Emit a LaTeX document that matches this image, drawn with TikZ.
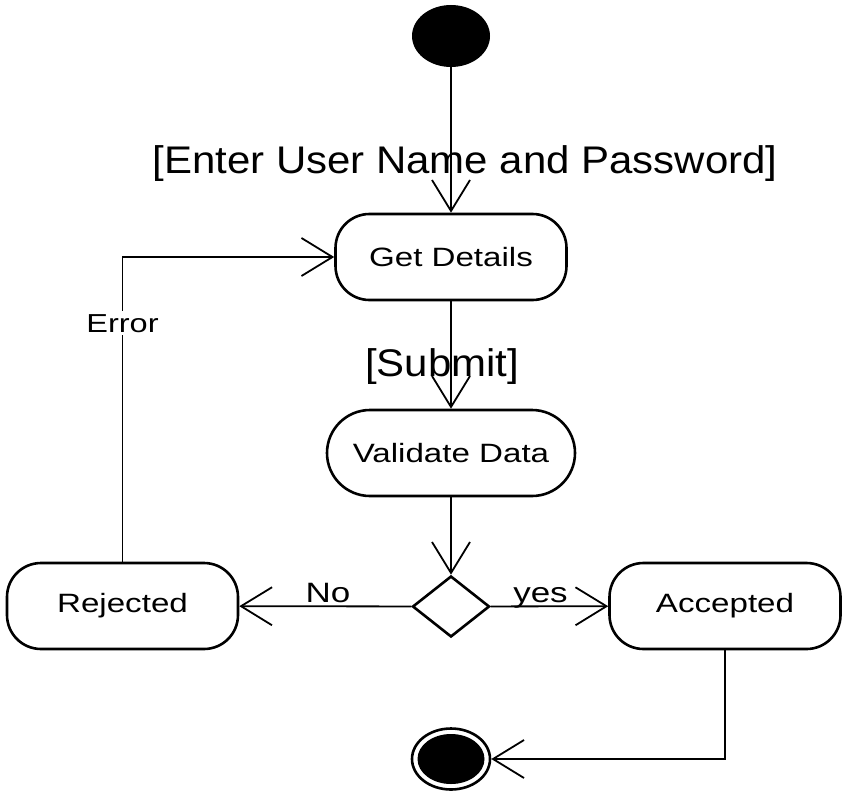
\documentclass[tikz,border=0pt]{standalone}
\usepackage{fontspec}
\usetikzlibrary{arrows.meta,shapes.geometric}
\newfontfamily\nodefont[FakeStretch=1.25]{Liberation Sans}
\newfontfamily\lblfont[FakeStretch=1.09]{Liberation Sans}
\tikzset{
  act/.style={draw, line width=2.6pt, rounded corners=34pt, minimum width=231pt, minimum height=86pt,
    inner sep=0pt, font=\nodefont\fontsize{26.5}{30}\selectfont},
  stadium/.style={act, rounded corners=43pt, minimum width=248pt},
  conn/.style={line width=1.8pt, -{Straight Barb[length=31pt, width=38pt, line width=1.8pt]}},
  plain/.style={line width=1.8pt},
  guard/.style={font=\lblfont\fontsize{38.5}{42}\selectfont, anchor=base, inner sep=0pt},
  small/.style={font=\nodefont\fontsize{28}{32}\selectfont, anchor=base, inner sep=0pt},
}
\begin{document}
\begin{tikzpicture}[x=1pt, y=-1pt]
\useasboundingbox[fill=white] (0,0) rectangle (850,800);
% nodes
\node[ellipse, fill=black, minimum width=78pt, minimum height=62pt, inner sep=0pt] (start) at (451,36) {};
\node[act] (get) at (451,257) {Get Details};
\node[stadium] (val) at (451,453) {Validate Data};
\node[diamond, draw, line width=2.6pt, minimum width=77pt, minimum height=61pt, inner sep=0pt] (dec) at (451,606.5) {};
\node[act] (rej) at (122.5,606) {Rejected};
\node[act] (acc) at (725,606) {Accepted};
\node[ellipse, draw, line width=2.6pt, minimum width=78pt, minimum height=61pt, inner sep=0pt] (end) at (451,759) {};
\node[ellipse, fill=black, minimum width=67pt, minimum height=50pt, inner sep=0pt] (endin) at (451,759) {};
% connectors
\draw[conn] (start) -- (get);
\draw[conn] (get) -- (val);
\draw[conn] (val) -- (dec);
\draw[conn] (dec) -- (rej);
\draw[conn] (dec) -- (acc);
\draw[conn] (acc.south) |- (end.east);
\draw[conn] (rej.north) |- (get.west);
% labels
\node[guard] (l1) at (465,173) {[Enter User Name and Password]};
\node[guard] (l2) at (442,376) {[Submit]};
\node[small, fill=white, inner ysep=3pt, font=\nodefont\fontsize{26}{30}\selectfont] (l3) at (122.5,332) {Error};
\node[small] (l4) at (328,602) {No};
\node[small] (l5) at (540.5,602) {yes};
\end{tikzpicture}
\end{document}
